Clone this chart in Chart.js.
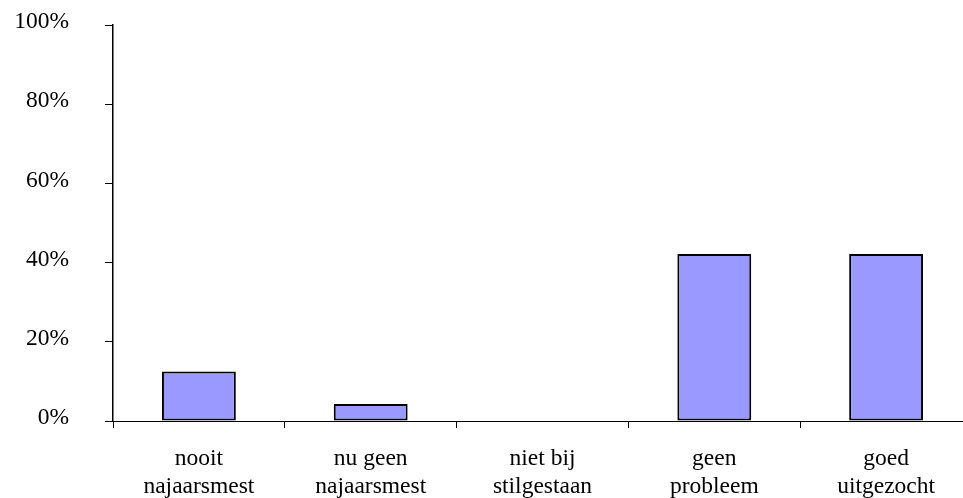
<!DOCTYPE html>
<html>
<head>
<meta charset="utf-8">
<script src="https://cdn.jsdelivr.net/npm/chart.js@4"></script>
<style>
  html, body { margin: 0; padding: 0; background: #fff; overflow: hidden; }
  #wrap { width: 963px; height: 498px; overflow: hidden; }
</style>
</head>
<body>
<div id="wrap">
  <canvas id="chart" width="972" height="498"></canvas>
</div>
<script>
const categories = [
  ['nooit', 'najaarsmest'],
  ['nu geen', 'najaarsmest'],
  ['niet bij', 'stilgestaan'],
  ['geen', 'probleem'],
  ['goed', 'uitgezocht']
];
const values = [12.5, 4.3, 0, 42.2, 42.2];
const yTicks = [0, 20, 40, 60, 80, 100];

const serif = '"Liberation Serif", "Times New Roman", serif';

const ctx = document.getElementById('chart').getContext('2d');
new Chart(ctx, {
  type: 'bar',
  data: {
    labels: categories,
    datasets: [{
      data: values,
      backgroundColor: '#9999FF',
      borderColor: '#000000',
      borderWidth: 2,
      borderSkipped: false,
      categoryPercentage: 1,
      barPercentage: 0.43
    }]
  },
  options: {
    responsive: false,
    devicePixelRatio: 1,
    animation: false,
    layout: { padding: { top: 25, left: 0, right: 0, bottom: 0 } },
    plugins: {
      legend: { display: false },
      tooltip: { enabled: false }
    },
    scales: {
      x: {
        offset: true,
        grid: {
          offset: true,
          drawOnChartArea: false,
          drawTicks: true,
          tickLength: 7,
          color: '#000'
        },
        border: { color: '#000', width: 1 },
        ticks: {
          color: '#000',
          font: { family: serif, size: 23.5, lineHeight: 1.2 },
          padding: 17,
          maxRotation: 0,
          autoSkip: false
        },
        afterFit: scale => {
          scale.height = 77;
          scale.paddingLeft = 0;
          scale.paddingRight = 0;
        }
      },
      y: {
        min: 0,
        max: 100,
        afterBuildTicks: scale => { scale.ticks = yTicks.map(v => ({ value: v })); },
        grid: {
          drawOnChartArea: false,
          drawTicks: true,
          tickLength: 8,
          color: '#000'
        },
        border: { color: '#000', width: 1.5 },
        ticks: {
          color: '#000',
          font: { family: serif, size: 23.5 },
          padding: 36,
          labelOffset: -3,
          callback: v => v + '%'
        },
        afterFit: scale => {
          scale.width = 113;
          scale.paddingTop = 0;
          scale.paddingBottom = 0;
        }
      }
    }
  }
});
</script>
</body>
</html>
